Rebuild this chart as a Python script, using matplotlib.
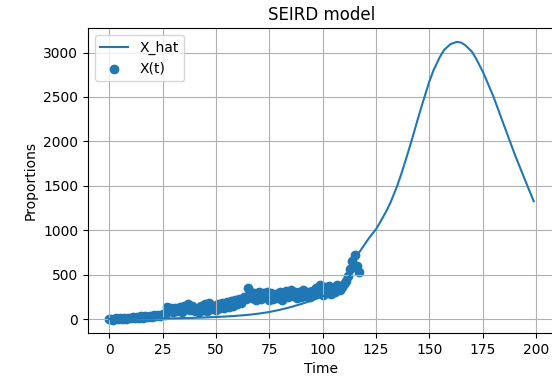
import matplotlib
matplotlib.use("Agg")
import matplotlib.pyplot as plt

# observed data X(t), one value per day
obs_t = list(range(118))
obs_x = [0, 5, -5, 8, 2, 12, -3, 15, 6, 18,
         8, 22, 10, 25, 14, 30, 18, 34, 22, 40,
         28, 45, 32, 52, 38, 60, 45, 140, 90, 125,
         80, 130, 95, 140, 85, 150, 110, 170, 100, 150,
         90, 130, 80, 150, 105, 165, 95, 180, 110, 150,
         100, 175, 120, 180, 130, 190, 140, 200, 150, 215,
         170, 230, 180, 250, 230, 350, 300, 240, 290, 220,
         300, 230, 290, 250, 310, 220, 290, 230, 280, 240,
         300, 220, 270, 320, 250, 330, 260, 310, 240, 300,
         250, 330, 260, 310, 250, 320, 280, 350, 290, 380,
         270, 360, 290, 370, 280, 350, 300, 380, 330, 360,
         390, 430, 480, 560, 650, 720, 600, 530]

# model estimate X_hat
hat_t = [0, 5, 10, 15, 20, 25, 30, 35, 40, 45, 50, 55, 60, 65, 70, 75, 80, 85, 90, 95,
         100, 105, 108, 110, 113, 116, 118, 120, 122, 125, 127, 130, 132, 135, 137, 140,
         142, 145, 147, 150, 152, 155, 157, 160, 163, 165, 167, 170, 172, 175, 177, 180,
         185, 190, 195, 199]
hat_x = [1, 2, 3, 4, 5, 7, 9, 12, 15, 19, 24, 30, 38, 48, 62, 80, 105, 135, 170, 210,
         255, 300, 335, 370, 500, 710, 780, 850, 920, 1010, 1090, 1220, 1320, 1500, 1640, 1870,
         2030, 2280, 2440, 2670, 2800, 2950, 3030, 3095, 3120, 3112, 3080, 3010, 2930, 2790, 2680, 2510,
         2185, 1860, 1560, 1326]

fig = plt.figure(figsize=(5.52, 3.80), dpi=100)
ax = fig.add_axes([0.1594, 0.1237, 0.846, 0.8026])

ax.plot(hat_t, hat_x, label='X_hat')
ax.scatter(obs_t, obs_x, label='X(t)')
ax.set_title('SEIRD model')
ax.set_xlabel('Time')
ax.set_ylabel('Proportions')
ax.set_xlim(-9.95, 208.95)
ax.set_ylim(-156, 3276)
ax.grid(True)
ax.legend(loc='upper left')

fig.savefig('out.png', dpi=100)
